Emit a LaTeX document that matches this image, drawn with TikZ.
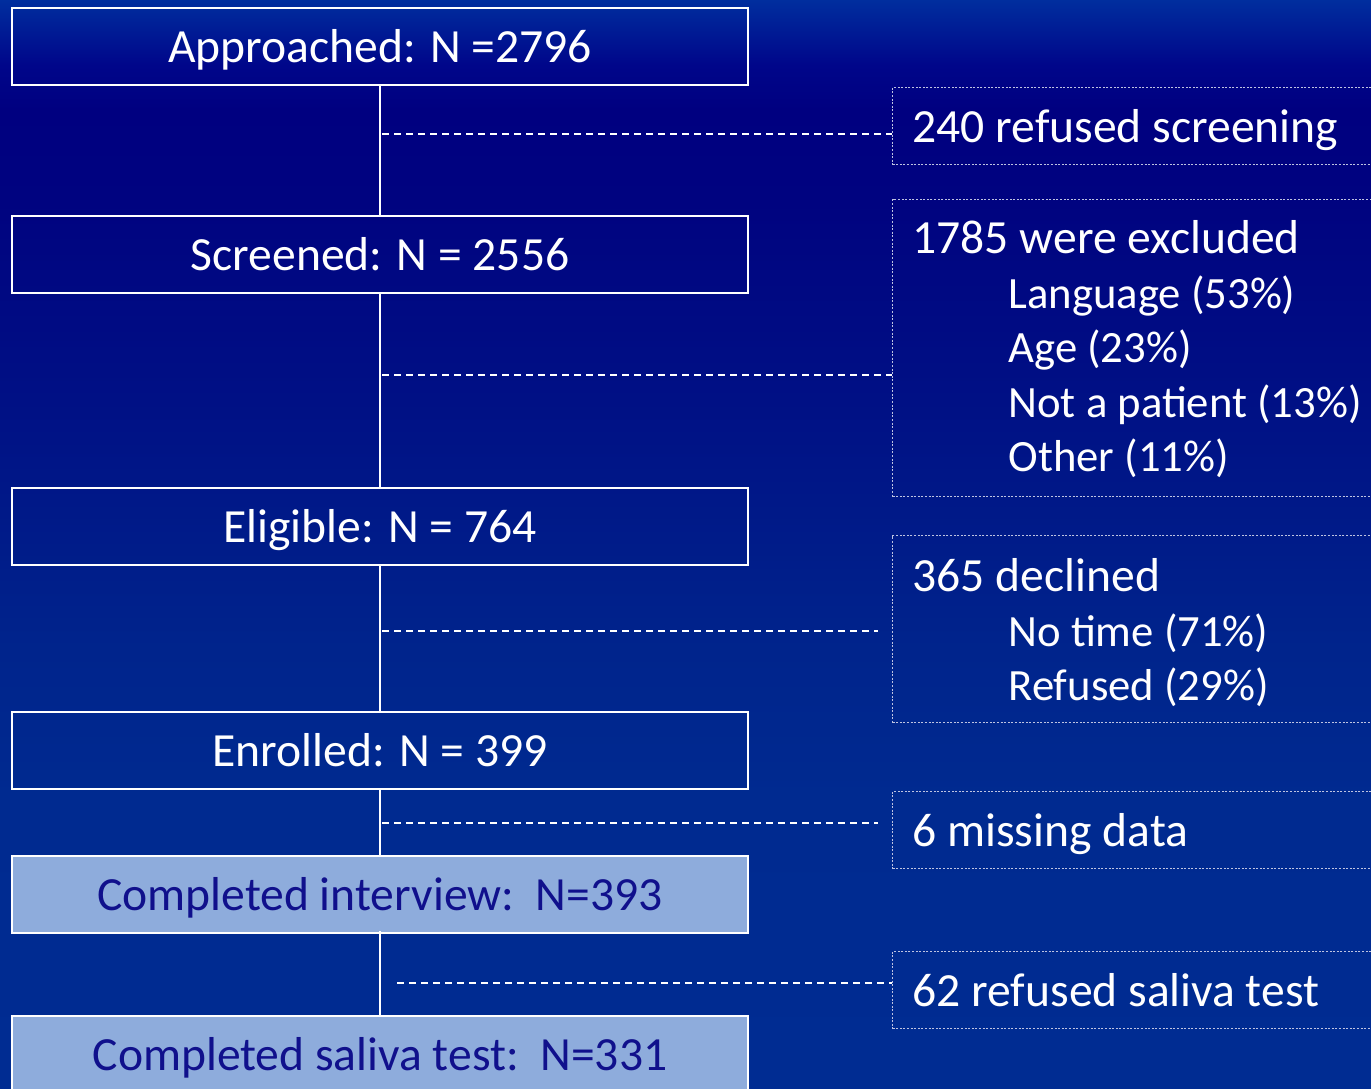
\documentclass[tikz,border=0pt]{standalone}
\usepackage{fontspec}
\setmainfont{Carlito}
\definecolor{bgA}{HTML}{002E9E}
\definecolor{bgB}{HTML}{00068A}
\definecolor{bgC}{HTML}{000080}
\definecolor{bgD}{HTML}{000380}
\definecolor{bgE}{HTML}{001085}
\definecolor{bgF}{HTML}{00248C}
\definecolor{bgG}{HTML}{002A90}
\definecolor{bgH}{HTML}{002C92}
\definecolor{lightfill}{HTML}{8EACDC}
\definecolor{darktext}{RGB}{16,16,140}
\definecolor{dotline}{RGB}{190,195,225}
\pgfdeclareverticalshading{bgshade}{100bp}{color(0bp)=(bgH); color(25bp)=(bgH); color(38.3bp)=(bgG); color(45.2bp)=(bgF); color(56.6bp)=(bgE); color(65.8bp)=(bgD); color(69.95bp)=(bgC); color(72bp)=(bgB); color(75bp)=(bgA); color(100bp)=(bgA)}
\newcommand{\subline}[1]{\hspace*{96pt}{\fontsize{44.7}{54.5}\selectfont #1}}
\tikzset{
  mainbox/.style={draw=white, line width=1.8pt, minimum width=736pt, minimum height=77pt,
    inner sep=0pt, text=white, anchor=north, text height=33pt, text depth=0pt,
    font=\fontsize{47.6}{54}\selectfont},
  lightbox/.style={mainbox, fill=lightfill, text=darktext},
  sidebox/.style={draw=dotline, line width=1.1pt, dash pattern=on 2pt off 1.6pt,
    anchor=north west, text width=600pt, inner xsep=20pt, inner ysep=0pt, align=flush left,
    text=white, text height=33pt, text depth=0pt, font=\fontsize{47.6}{54.5}\selectfont},
  vline/.style={draw=white, line width=2pt},
  dline/.style={draw=white, line width=2pt, dash pattern=on 7pt off 5pt}
}
\begin{document}
\begin{tikzpicture}[x=1pt, y=-1pt]
\useasboundingbox (0,0) rectangle (1371,1089);
\clip (0,0) rectangle (1371,1089);
\shade[shading=bgshade] (0,0) rectangle (1371,1089);

% main column
\node[mainbox] (app) at (380,7) {Approached: N =2796};
\node[mainbox] (scr) at (380,215) {Screened: N = 2556};
\node[mainbox] (eli) at (380,487) {Eligible: N = 764};
\node[mainbox] (enr) at (380,711) {Enrolled: N = 399};
\node[lightbox] (int) at (380,855) {Completed interview:\ \ N=393};
\node[lightbox] (sal) at (380,1015) {Completed saliva test:\ \ N=331};

% side boxes
\node[sidebox, minimum height=77pt] (r1) at (892,87) {240 refused screening};
\node[sidebox, minimum height=297pt, text depth=222pt] (r2) at (892,199) {1785 were excluded\\
\subline{Language (53\%)}\\
\subline{Age (23\%)}\\
\subline{Not a patient (13\%)}\\
\subline{Other (11\%)}};
\node[sidebox, minimum height=187pt, text depth=108pt] (r3) at (892,535) {365 declined\\
\subline{No time (71\%)}\\
\subline{Refused (29\%)}};
\node[sidebox, minimum height=77pt] (r4) at (892,791) {6 missing data};
\node[sidebox, minimum height=77pt] (r5) at (892,951) {62 refused saliva test};

% vertical connectors
\draw[vline] (app.south) -- (scr.north);
\draw[vline] (scr.south) -- (eli.north);
\draw[vline] (eli.south) -- (enr.north);
\draw[vline] (enr.south) -- (int.north);
\draw[vline] ([yshift=3pt]int.south) -- (sal.north);

% dashed connectors
\coordinate (j1) at (382,134);
\coordinate (j2) at (382,375);
\coordinate (j3) at (382,631);
\coordinate (j4) at (382,823);
\coordinate (j5) at (397,983);
\draw[dline] (j1) -- (j1 -| r1.west);
\draw[dline] (j2) -- (j2 -| r2.west);
\draw[dline, shorten >=14pt] (j3) -- (j3 -| r3.west);
\draw[dline, shorten >=14pt] (j4) -- (j4 -| r4.west);
\draw[dline] (j5) -- (j5 -| r5.west);
\end{tikzpicture}
\end{document}
